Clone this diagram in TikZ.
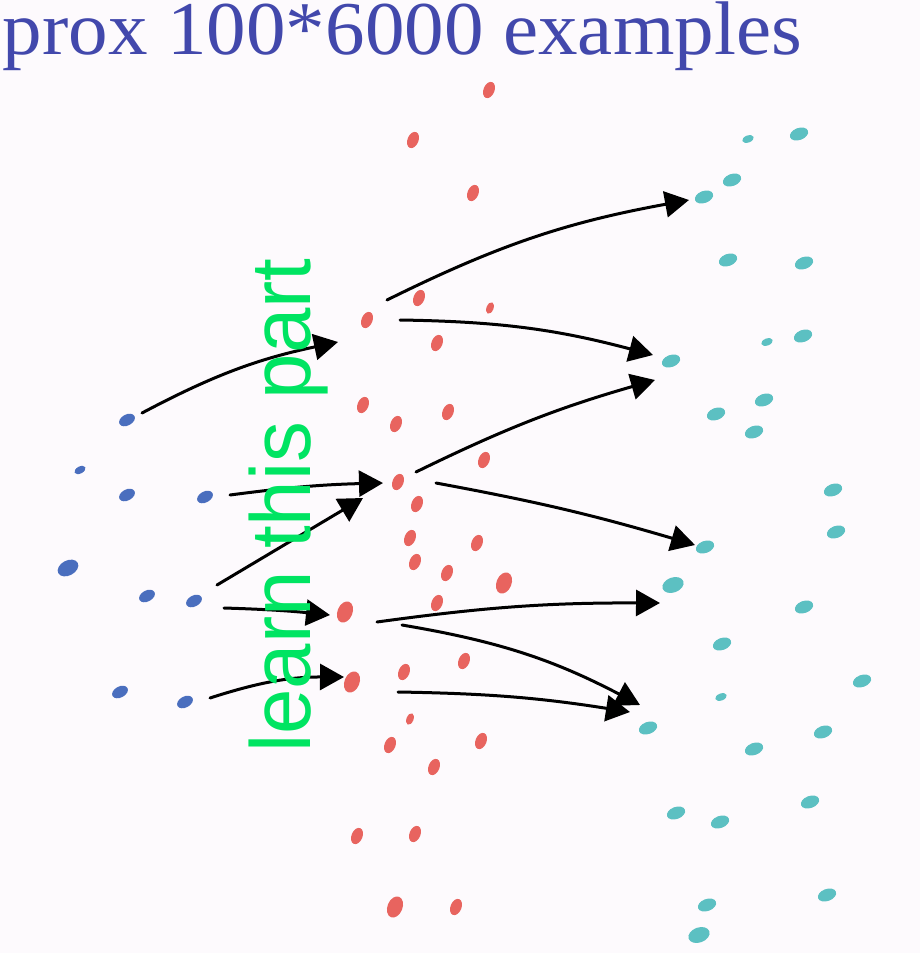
\documentclass[tikz,border=0pt]{standalone}
\usepackage{fontspec}
\setmainfont{Liberation Serif}
\newfontfamily\sansfont{Liberation Sans}
\usetikzlibrary{arrows.meta,shapes.geometric}
\definecolor{paper}{HTML}{FDFAFD}
\definecolor{titleBlue}{HTML}{4248AC}
\definecolor{learnGreen}{HTML}{00E462}
\definecolor{dotRed}{HTML}{E8645F}
\definecolor{dotTeal}{HTML}{5CC0C2}
\definecolor{dotBlue}{HTML}{4A6EBE}
\tikzset{
  dot/.style={ellipse, inner sep=0pt, draw=none, minimum width=17pt, minimum height=11pt},
  bluedot/.style={dot, fill=dotBlue, rotate=28},
  reddot/.style={dot, fill=dotRed, rotate=68},
  tealdot/.style={dot, fill=dotTeal, rotate=20, minimum width=19pt, minimum height=12pt},
  sm/.style={minimum width=12pt, minimum height=7pt},
  md/.style={},
  lg/.style={minimum width=22pt, minimum height=15pt},
  arr/.style={-{Triangle[length=24pt,width=26pt]}, line width=3pt, black, line cap=round},
  title/.style={font=\fontsize{76}{88}\selectfont, text=titleBlue, inner sep=0pt},
  learn/.style={font=\sansfont\fontsize{85}{100}\selectfont, text=learnGreen, inner sep=0pt}
}

\begin{document}
\begin{tikzpicture}[x=1pt,y=-1pt]
  \fill[paper] (0,0) rectangle (920,953);
  \useasboundingbox (0,0) rectangle (920,953);
  \node[title, anchor=base east] (head) at (802,54) {\scalebox{1.04}[1]{prox 100*6000 examples}};

  % input points
  \foreach \n/\x/\y/\s in {1/127/420/md, 2/80/470/sm, 3/127/495/md, 4/205/497/md, 5/68/568/lg,
      6/147/596/md, 7/194/601/md, 8/120/692/md, 9/185/702/md}
    \node[bluedot,\s] (b\n) at (\x,\y) {};
  % hidden layer
  \foreach \n/\x/\y/\s in {1/489/90/md, 2/413/140/md, 3/473/193/md, 4/419/298/md, 5/367/320/md,
      6/490/308/sm, 7/437/343/md, 8/363/405/md, 9/448/412/md, 10/396/424/md,
      11/484/460/md, 12/398/482/md, 13/417/504/md, 14/410/538/md, 15/477/543/md,
      16/415/562/md, 17/447/573/md, 18/504/583/lg, 19/437/603/md, 20/345/612/lg,
      21/464/661/md, 22/404/672/md, 23/352/682/lg, 24/410/719/sm, 25/390/745/md,
      26/481/741/md, 27/434/767/md, 28/357/836/md, 29/415/834/md, 30/395/907/lg,
      31/456/907/md}
    \node[reddot,\s] (r\n) at (\x,\y) {};
  % outputs
  \foreach \n/\x/\y/\s in {1/748/139/sm, 2/799/134/md, 3/732/180/md, 4/704/197/md, 5/728/260/md,
      6/804/263/md, 7/767/342/sm, 8/803/336/md, 9/671/361/md, 10/764/400/md,
      11/716/414/md, 12/754/432/md, 13/833/490/md, 14/836/532/md, 15/705/547/md,
      16/673/585/lg, 17/804/607/md, 18/722/644/md, 19/862/681/md, 20/721/697/sm,
      21/648/728/md, 22/823/732/md, 23/754/749/md, 24/810/802/md, 25/676/813/md,
      26/720/822/md, 27/827/895/md, 28/707/905/md, 29/699/935/lg}
    \node[tealdot,\s] (t\n) at (\x,\y) {};

  % arrows into the hidden layer
  \draw[arr] ([shift={(15,-7)}]b1.center) to[bend left=8] ([shift={(-29,22)}]r5.center);
  \draw[arr] ([shift={(25,-2)}]b4.center) to[bend left=3] ([shift={(-15,1)}]r12.center);
  \draw[arr] ([shift={(23,-16)}]b7.center) -- ([shift={(-35,16)}]r12.center);
  \draw[arr] ([shift={(30,7)}]b7.center) to[bend left=2] ([shift={(-15,3)}]r20.center);
  \draw[arr] ([shift={(25,-4)}]b9.center) to[bend left=9] ([shift={(-8,-5)}]r23.center);
  % arrows out of it
  \draw[arr] ([shift={(20,-20)}]r5.center) to[bend left=8] ([shift={(-15,3)}]t4.center);
  \draw[arr] ([shift={(33,0)}]r5.center) to[bend left=7] ([shift={(-18,-6)}]t9.center);
  \draw[arr] ([shift={(18,-10)}]r12.center) to[bend left=5] ([shift={(-16,19)}]t9.center);
  \draw[arr] ([shift={(38,1)}]r12.center) to[bend left=3] ([shift={(-10,-2)}]t15.center);
  \draw[arr] ([shift={(32,10)}]r20.center) to[bend left=4] ([shift={(-13,18)}]t16.center);
  \draw[arr] ([shift={(57,13)}]r20.center) to[bend left=9] ([shift={(-8,-23)}]t21.center);
  \draw[arr] ([shift={(46,10)}]r23.center) to[bend left=4] ([shift={(-18,-16)}]t21.center);

  \node[learn, rotate=90, anchor=base west] (part) at (310,753) {\scalebox{0.96}[1]{learn this part}};
\end{tikzpicture}
\end{document}
